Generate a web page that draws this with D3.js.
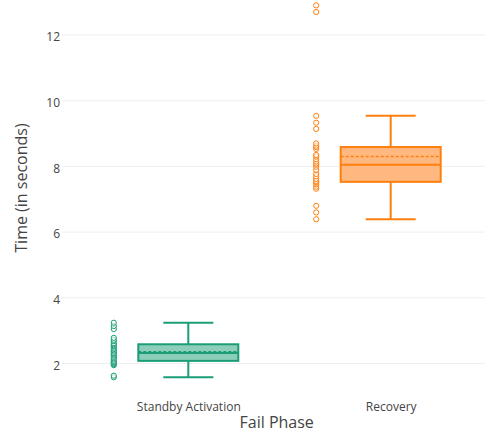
<!DOCTYPE html>
<html>
<head>
<meta charset="utf-8">
<script src="https://cdn.jsdelivr.net/npm/d3@7"></script>
<style>
  html, body { margin: 0; padding: 0; background: #fff; }
  svg { display: block; font-family: "Open Sans", verdana, arial, sans-serif; }
</style>
</head>
<body>
<svg id="chart" width="485" height="436"></svg>
<script>
// Fail phase categories and the measured times (seconds) for each run
const categories = ["Standby Activation", "Recovery"];

const standbyTimes = [
  1.58, 1.63, 1.95, 1.98, 2.00, 2.03, 2.05, 2.08, 2.12, 2.16,
  2.20, 2.24, 2.27, 2.30, 2.32, 2.36, 2.40, 2.44, 2.48, 2.52,
  2.55, 2.585, 2.62, 2.68, 2.72, 2.78, 3.05, 3.14, 3.24
];

const recoveryTimes = [
  6.39, 6.60, 6.80, 7.32, 7.38, 7.45, 7.50, 7.53, 7.56, 7.62,
  7.70, 7.77, 7.89, 7.99, 8.05, 8.09, 8.15, 8.22, 8.30, 8.35,
  8.53, 8.59, 8.63, 8.70, 9.14, 9.33, 9.54, 12.70, 12.90
];

const yTicks = [2, 4, 6, 8, 10, 12];

const seriesColors = ["#1b9e77", "#ff7f0e"];
const fillColors = ["#8dceba", "#ffb87f"];

const series = [standbyTimes, recoveryTimes];

const svg = d3.select("#chart");
const plotLeft = 62, plotRight = 485;

const x = d3.scalePoint().domain(categories).range([188.3, 390.7]);
const y = d3.scaleLinear().domain([1.0, 13.1]).range([396.35, -1.135]);

// horizontal grid
svg.append("g")
  .selectAll("line")
  .data(yTicks)
  .join("line")
  .attr("x1", plotLeft).attr("x2", plotRight)
  .attr("y1", d => y(d)).attr("y2", d => y(d))
  .attr("stroke", "#eeeeee").attr("stroke-width", 1);

// y axis tick labels
const yAxis = d3.axisLeft(y).tickValues(yTicks).tickSize(0).tickPadding(2);
svg.append("g")
  .attr("transform", `translate(${plotLeft},2)`)
  .call(yAxis)
  .call(g => g.select(".domain").remove())
  .call(g => g.selectAll("text")
    .attr("fill", "#444").attr("font-size", 12)
    .attr("font-family", '"Open Sans", verdana, arial, sans-serif'));

// x axis tick labels
const xAxis = d3.axisBottom(x).tickSize(0).tickPadding(0);
svg.append("g")
  .attr("transform", `translate(0,402)`)
  .call(xAxis)
  .call(g => g.select(".domain").remove())
  .call(g => g.selectAll("text")
    .attr("fill", "#444").attr("font-size", 12)
    .attr("font-family", '"Open Sans", verdana, arial, sans-serif'));

// axis titles
svg.append("text")
  .attr("x", 276.7).attr("y", 428)
  .attr("text-anchor", "middle")
  .attr("fill", "#444").attr("font-size", 16)
  .text("Fail Phase");

svg.append("text")
  .attr("transform", "translate(27,188) rotate(-90)")
  .attr("text-anchor", "middle")
  .attr("fill", "#444").attr("font-size", 16)
  .text("Time (in seconds)");

// box statistics with 1.5 IQR whiskers
function boxStats(values) {
  const s = values.slice().sort(d3.ascending);
  const q1 = d3.quantile(s, 0.25);
  const med = d3.quantile(s, 0.5);
  const q3 = d3.quantile(s, 0.75);
  const iqr = q3 - q1;
  const lo = d3.min(s.filter(v => v >= q1 - 1.5 * iqr));
  const hi = d3.max(s.filter(v => v <= q3 + 1.5 * iqr));
  return { q1, med, q3, lo, hi, mean: d3.mean(s) };
}

const boxWidth = 100, capWidth = 50, pointOffset = -74.5;

series.forEach((vals, i) => {
  const cx = x(categories[i]);
  const st = boxStats(vals);
  const g = svg.append("g");
  const col = seriesColors[i];

  // whiskers
  g.append("line").attr("x1", cx).attr("x2", cx)
    .attr("y1", y(st.q3)).attr("y2", y(st.hi))
    .attr("stroke", col).attr("stroke-width", 2);
  g.append("line").attr("x1", cx).attr("x2", cx)
    .attr("y1", y(st.q1)).attr("y2", y(st.lo))
    .attr("stroke", col).attr("stroke-width", 2);
  [st.hi, st.lo].forEach(v => {
    g.append("line")
      .attr("x1", cx - capWidth / 2).attr("x2", cx + capWidth / 2)
      .attr("y1", y(v)).attr("y2", y(v))
      .attr("stroke", col).attr("stroke-width", 2);
  });

  // box
  g.append("rect")
    .attr("x", cx - boxWidth / 2).attr("width", boxWidth)
    .attr("y", y(st.q3)).attr("height", y(st.q1) - y(st.q3))
    .attr("fill", fillColors[i])
    .attr("stroke", col).attr("stroke-width", 2);

  // median
  g.append("line")
    .attr("x1", cx - boxWidth / 2).attr("x2", cx + boxWidth / 2)
    .attr("y1", y(st.med)).attr("y2", y(st.med))
    .attr("stroke", col).attr("stroke-width", 2);

  // mean
  g.append("line")
    .attr("x1", cx - boxWidth / 2).attr("x2", cx + boxWidth / 2)
    .attr("y1", y(st.mean)).attr("y2", y(st.mean))
    .attr("stroke", col).attr("stroke-width", 1.5)
    .attr("stroke-dasharray", "3,2");

  // individual points beside the box
  g.selectAll("circle")
    .data(vals)
    .join("circle")
    .attr("cx", cx + pointOffset)
    .attr("cy", d => y(d))
    .attr("r", 2.6)
    .attr("fill", "rgba(255,255,255,0.6)")
    .attr("stroke", col).attr("stroke-width", 1);
});
</script>
</body>
</html>
